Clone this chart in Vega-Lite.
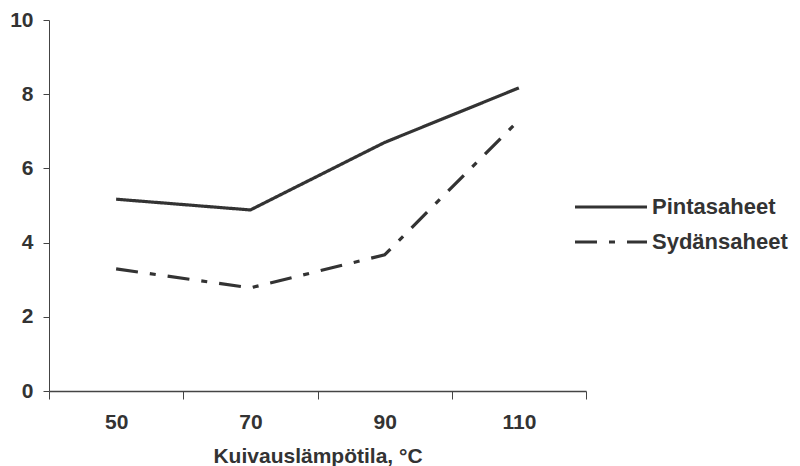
{
  "$schema": "https://vega.github.io/schema/vega-lite/v6.json",
  "width": 537,
  "height": 371,
  "autosize": {"type": "none"},
  "padding": {"left": 49, "top": 20, "right": 214, "bottom": 75},
  "background": "white",
  "config": {
    "view": {"stroke": null},
    "font": "Liberation Sans",
    "axis": {"grid": false, "domainColor": "#444", "tickColor": "#444", "labelColor": "#333", "labelFont": "Liberation Sans", "labelFontWeight": "bold", "labelFontSize": 21, "titleColor": "#333", "titleFont": "Liberation Sans", "titleFontWeight": "bold", "titleFontSize": 21}
  },
  "data": {
    "values": [
      {"temp": 50, "sarja": "Pintasaheet", "arvo": 5.17},
      {"temp": 70, "sarja": "Pintasaheet", "arvo": 4.88},
      {"temp": 90, "sarja": "Pintasaheet", "arvo": 6.7},
      {"temp": 110, "sarja": "Pintasaheet", "arvo": 8.17},
      {"temp": 50, "sarja": "Sydänsaheet", "arvo": 3.29},
      {"temp": 70, "sarja": "Sydänsaheet", "arvo": 2.78},
      {"temp": 90, "sarja": "Sydänsaheet", "arvo": 3.67},
      {"temp": 110, "sarja": "Sydänsaheet", "arvo": 7.3}
    ]
  },
  "mark": {"type": "line", "color": "#333", "strokeWidth": 3.2},
  "encoding": {
    "x": {
      "field": "temp", "type": "ordinal", "sort": "ascending",
      "scale": {"paddingInner": 0, "paddingOuter": 0},
      "axis": {"title": "Kuivauslämpötila,  °C", "labelAngle": 0, "tickBand": "extent", "tickSize": 8, "labelPadding": 12, "titlePadding": 13, "domainWidth": 1.5}
    },
    "y": {
      "field": "arvo", "type": "quantitative",
      "scale": {"domain": [0, 10], "nice": false},
      "axis": {"title": null, "values": [0, 2, 4, 6, 8, 10], "tickSize": 6, "labelPadding": 10}
    },
    "strokeDash": {
      "field": "sarja", "type": "nominal",
      "scale": {"domain": ["Pintasaheet", "Sydänsaheet"], "range": [[1, 0], [22, 12, 6, 12]]},
      "legend": {
        "title": null, "orient": "none", "legendX": 524, "legendY": 176,
        "symbolType": "stroke", "symbolSize": 5184, "symbolStrokeWidth": 3.2, "symbolStrokeColor": "#333",
        "labelFont": "Liberation Sans", "labelFontWeight": "bold", "labelFontSize": 22, "labelColor": "#333", "labelOffset": 3,
        "clipHeight": 22, "rowPadding": 13
      }
    }
  }
}
